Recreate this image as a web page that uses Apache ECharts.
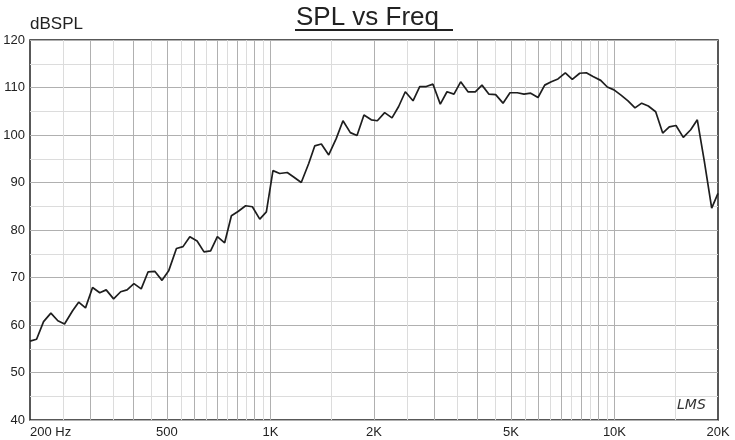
<!DOCTYPE html>
<html>
<head>
<meta charset="utf-8">
<script src="https://cdn.jsdelivr.net/npm/echarts@6/dist/echarts.min.js"></script>
<style>
  html, body { margin: 0; padding: 0; background: #fff; }
  #chart { width: 735px; height: 440px; }
</style>
</head>
<body>
<div id="chart"></div>
<script>
// frequency (Hz) of each measured point
var freqHz = [
  200, 209, 219, 230, 241, 252, 266, 277, 290, 304, 319, 333, 350, 367, 383, 401,
  421, 441, 461, 484, 506, 533, 557, 583, 612, 641, 670, 701, 736, 770, 805, 847,
  886, 931, 973, 1017, 1064, 1119, 1171, 1229, 1292, 1345, 1406, 1477, 1554, 1625,
  1707, 1785, 1870, 1964, 2045, 2148, 2256, 2359, 2466, 2597, 2716, 2838, 2968,
  3117, 3260, 3416, 3573, 3752, 3940, 4120, 4318, 4516, 4743, 4970, 5219, 5458,
  5709, 5995, 6270, 6553, 6853, 7197, 7542, 7925, 8283, 8663, 9121, 9533, 9970,
  10448, 10949, 11475, 12000, 12542, 13179, 13811, 14435, 15097, 15854, 16660,
  17413, 18248, 19174, 20000
];
// level in dB SPL
var splDb = [
  56.6, 57.0, 60.7, 62.5, 60.9, 60.2, 63.0, 64.8, 63.6, 67.9, 66.8, 67.4, 65.5, 67.0, 67.4, 68.7,
  67.6, 71.2, 71.3, 69.4, 71.4, 76.1, 76.5, 78.6, 77.7, 75.4, 75.6, 78.6, 77.3, 83.0, 83.9, 85.1,
  84.9, 82.3, 83.8, 92.5, 91.9, 92.1, 91.1, 90.0, 94.0, 97.7, 98.1, 95.8, 99.3, 103.0,
  100.5, 99.9, 104.2, 103.2, 103.0, 104.7, 103.6, 106.0, 109.1, 107.2, 110.2, 110.2, 110.7,
  106.5, 109.1, 108.6, 111.2, 109.1, 109.1, 110.5, 108.6, 108.5, 106.7, 108.9, 108.9, 108.6,
  108.8, 107.9, 110.5, 111.2, 111.8, 113.1, 111.7, 113.0, 113.1, 112.3, 111.5, 110.1, 109.5,
  108.4, 107.2, 105.7, 106.7, 106.1, 104.9, 100.4, 101.7, 102.0, 99.5, 101.1,
  103.2, 94.5, 84.6, 87.7
];

var xLabelHz = [200, 500, 1000, 2000, 5000, 10000, 20000];
var xLabelText = ['200 Hz', '500', '1K', '2K', '5K', '10K', '20K'];
var gridMajorHz = [300, 400, 500, 600, 700, 800, 900, 1000, 2000, 3000, 4000, 5000,
  6000, 7000, 8000, 9000, 10000];
var gridMinorHz = [250, 350, 450, 550, 650, 750, 850, 950, 1500, 2500, 3500, 4500,
  5500, 6500, 7500, 8500, 9500, 15000];

var DARK = '#b0b0b0';
var LIGHT = '#dcdcdc';
var FONT = '"Liberation Sans", Arial, sans-serif';

var chart = echarts.init(document.getElementById('chart'));

var gridLines = [];
gridMinorHz.forEach(function (f) {
  gridLines.push({ xAxis: f, lineStyle: { color: LIGHT } });
});
gridMajorHz.forEach(function (f) {
  gridLines.push({ xAxis: f, lineStyle: { color: DARK } });
});

var points = freqHz.map(function (f, i) { return [f, splDb[i]]; });

chart.setOption({
  animation: false,
  backgroundColor: '#fff',
  title: {
    text: 'SPL vs Freq',
    left: 'center',
    top: 0,
    textStyle: { fontFamily: FONT, fontSize: 26, fontWeight: 'normal', color: '#222' }
  },
  grid: {
    left: 30, right: 17, top: 40, bottom: 20,
    show: true, borderColor: '#222', borderWidth: 1.5
  },
  xAxis: {
    type: 'log',
    logBase: 10,
    min: 200,
    max: 20000,
    axisLine: { show: false },
    axisTick: { show: false },
    splitLine: { show: false },
    minorSplitLine: { show: false },
    axisLabel: {
      customValues: xLabelHz,
      alignMinLabel: 'left',
      margin: 6,
      fontFamily: FONT,
      fontSize: 13,
      color: '#222',
      formatter: function (v) {
        var i = xLabelHz.findIndex(function (f) { return Math.abs(f - v) < 1; });
        return i >= 0 ? xLabelText[i] : '';
      }
    }
  },
  yAxis: {
    type: 'value',
    min: 40,
    max: 120,
    interval: 5,
    name: 'dBSPL',
    nameLocation: 'end',
    nameGap: 7,
    nameTextStyle: { fontFamily: FONT, fontSize: 17, color: '#222', align: 'left', verticalAlign: 'bottom' },
    axisLine: { show: false },
    axisTick: { show: false },
    splitLine: { show: true, lineStyle: { color: [DARK, LIGHT], width: 1 } },
    axisLabel: {
      margin: 5,
      fontFamily: FONT,
      fontSize: 13,
      color: '#222',
      formatter: function (v) { return v % 10 === 0 ? String(v) : ''; }
    }
  },
  graphic: [
    { type: 'line', shape: { x1: 295, y1: 30, x2: 453, y2: 30 }, style: { stroke: '#222', lineWidth: 2 } },
    { type: 'text', left: 677, top: 398, style: { text: 'LMS', font: 'italic 14px "DejaVu Sans"', fill: '#333' } }
  ],
  series: [{
    type: 'line',
    data: points,
    symbol: 'none',
    smooth: false,
    z: 3,
    lineStyle: { color: '#1e1e1e', width: 1.7 },
    markLine: {
      silent: true,
      symbol: 'none',
      z: 1,
      label: { show: false },
      emphasis: { disabled: true },
      lineStyle: { type: 'solid', width: 1 },
      data: gridLines
    }
  }]
});
</script>
</body>
</html>
